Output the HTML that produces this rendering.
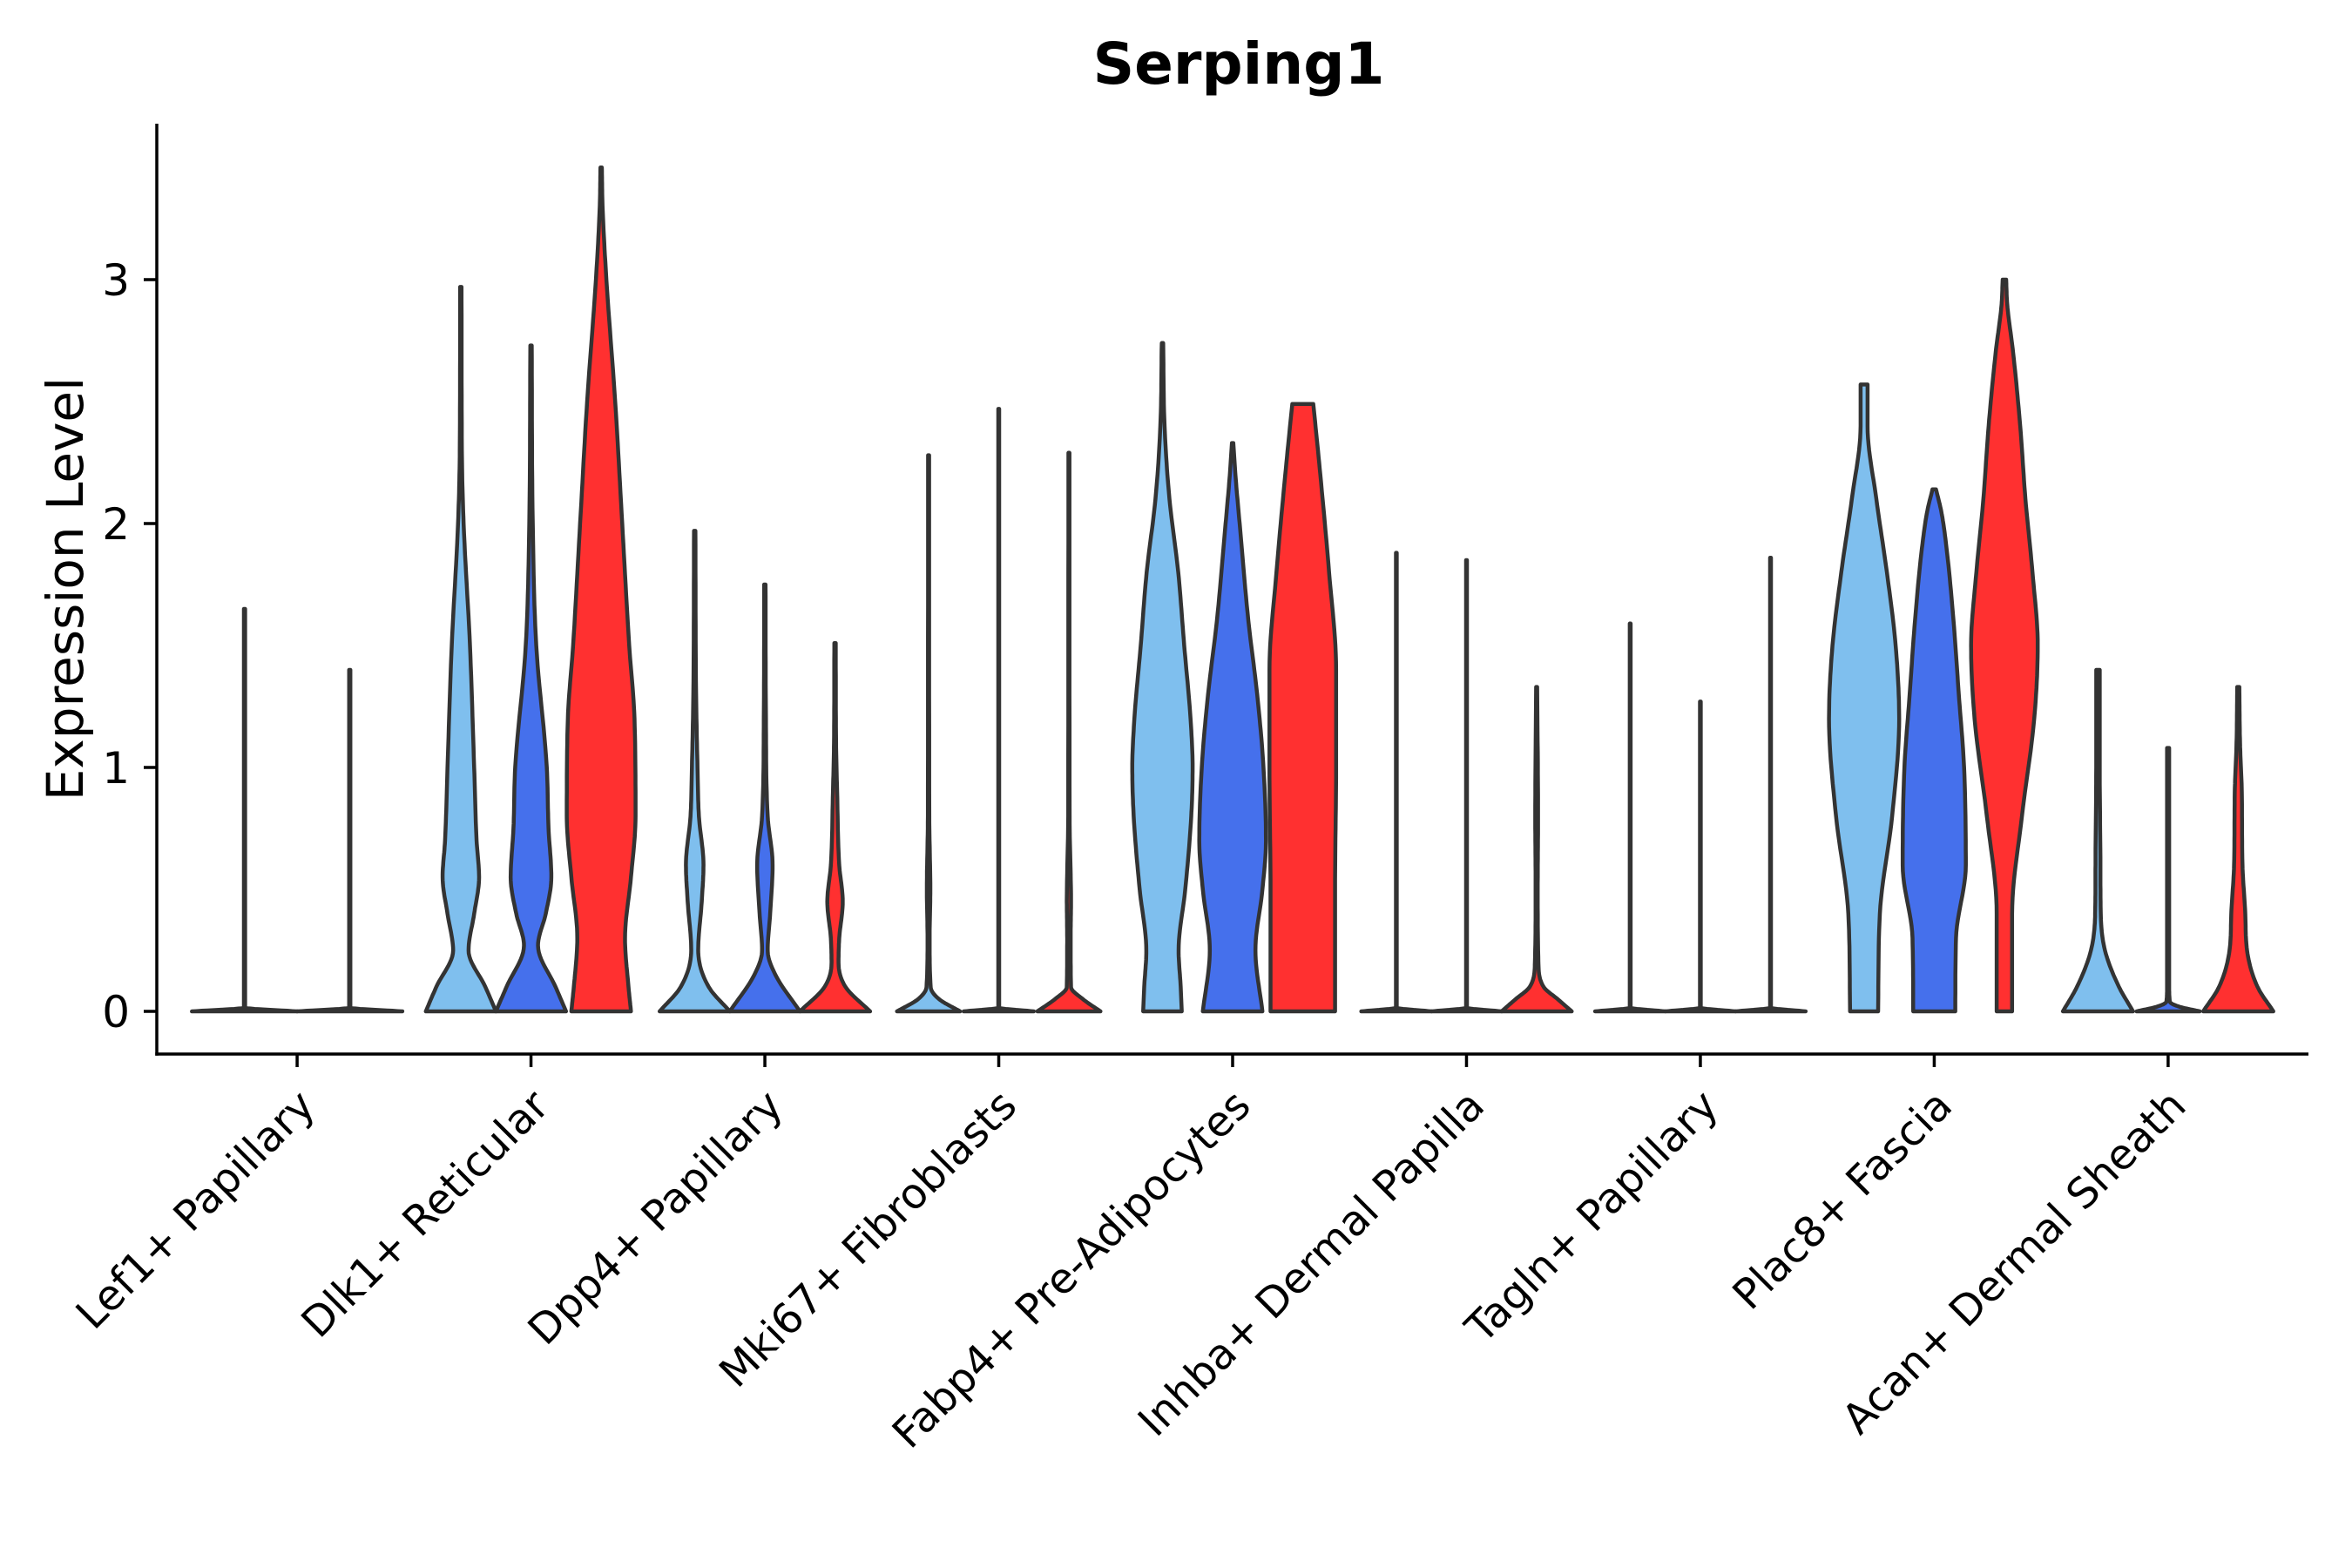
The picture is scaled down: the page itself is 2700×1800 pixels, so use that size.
<!DOCTYPE html>
<html><head><meta charset="utf-8"><style>
html,body{margin:0;padding:0;background:#fff}
svg{display:block}
text{font-family:"DejaVu Sans","Liberation Sans",sans-serif;fill:#000}
</style></head><body>
<svg id="chart" width="2700" height="1800" viewBox="0 0 2700 1800" xmlns="http://www.w3.org/2000/svg">
<text x="1422" y="96" font-size="66" font-weight="bold" text-anchor="middle">Serping1</text>
<text transform="translate(95,676) rotate(-90)" font-size="58" text-anchor="middle">Expression Level</text>
<g id="plot"></g>
</svg>
<script>
const categories = ["Lef1+ Papillary","Dlk1+ Reticular","Dpp4+ Papillary","Mki67+ Fibroblasts","Fabp4+ Pre-Adipocytes","Inhba+ Dermal Papilla","Tagln+ Papillary","Plac8+ Fascia","Acan+ Dermal Sheath"];
const yTicks = [0,1,2,3];
const seriesColors = ["#7fbfee","#4570ec","#ff3030"];
// each violin profile: [value, relative half-width]
const lef1 = [
  [[0,1],[0.015,0.012],[1.65,0.012]],
  [[0,1],[0.015,0.012],[1.40,0.012]]
];
const dlk1 = [
  [[0,1],[0.1,0.7],[0.25,0.22],[0.4,0.38],[0.55,0.52],[0.7,0.45],[1.0,0.38],[1.5,0.26],[2.0,0.08],[2.3,0.03],[2.97,0.02]],
  [[0,1],[0.1,0.7],[0.27,0.2],[0.4,0.42],[0.55,0.58],[0.75,0.5],[1.0,0.45],[1.5,0.15],[2.0,0.05],[2.73,0.02]],
  [[0,0.85],[0.1,0.78],[0.3,0.68],[0.55,0.85],[0.8,0.98],[1.2,0.95],[1.5,0.8],[2.0,0.6],[2.5,0.4],[3.0,0.15],[3.3,0.04],[3.46,0.02]]
];
const dpp4 = [
  [[0,1],[0.1,0.4],[0.25,0.1],[0.45,0.2],[0.6,0.25],[0.8,0.12],[1.0,0.08],[1.3,0.04],[1.97,0.02]],
  [[0,1],[0.15,0.3],[0.25,0.08],[0.4,0.15],[0.6,0.22],[0.8,0.08],[1.2,0.03],[1.75,0.02]],
  [[0,1],[0.1,0.3],[0.2,0.1],[0.3,0.12],[0.45,0.22],[0.6,0.12],[0.9,0.06],[1.1,0.03],[1.51,0.02]]
];
const mki67 = [
  [[0,0.9],[0.05,0.3],[0.1,0.06],[0.3,0.03],[0.5,0.05],[0.8,0.02],[2.28,0.015]],
  [[0,1],[0.015,0.012],[2.47,0.012]],
  [[0,0.9],[0.05,0.4],[0.1,0.06],[0.3,0.05],[0.45,0.06],[0.8,0.02],[2.29,0.015]]
];
const fabp4 = [
  [[0,0.55],[0.1,0.52],[0.25,0.46],[0.5,0.65],[0.8,0.82],[1.0,0.86],[1.2,0.8],[1.5,0.62],[1.8,0.45],[2.1,0.2],[2.4,0.06],[2.74,0.02]],
  [[0,0.85],[0.25,0.65],[0.5,0.85],[0.7,0.95],[1.0,0.88],[1.3,0.7],[1.6,0.45],[2.0,0.2],[2.2,0.08],[2.33,0.02]],
  [[0,0.92],[0.5,0.92],[1.0,0.95],[1.4,0.95],[1.8,0.75],[2.2,0.5],[2.49,0.3]]
];
const inhba = [
  [[0,1],[0.015,0.012],[1.88,0.012]],
  [[0,1],[0.015,0.012],[1.85,0.012]],
  [[0,1],[0.05,0.6],[0.1,0.2],[0.2,0.05],[0.5,0.03],[0.8,0.04],[1.33,0.015]]
];
const tagln = [
  [[0,1],[0.015,0.012],[1.59,0.012]],
  [[0,1],[0.015,0.012],[1.27,0.012]],
  [[0,1],[0.015,0.012],[1.86,0.012]]
];
const plac8 = [
  [[0,0.4],[0.4,0.45],[0.8,0.8],[1.2,1.0],[1.5,0.9],[1.8,0.65],[2.1,0.35],[2.4,0.1],[2.57,0.1]],
  [[0,0.6],[0.3,0.62],[0.6,0.9],[1.0,0.85],[1.3,0.7],[1.6,0.55],[1.9,0.35],[2.05,0.2],[2.14,0.05]],
  [[0,0.22],[0.4,0.22],[0.8,0.5],[1.2,0.85],[1.5,0.95],[1.8,0.8],[2.1,0.6],[2.4,0.45],[2.7,0.25],[2.9,0.08],[3.0,0.05]]
];
const acan = [
  [[0,1],[0.1,0.6],[0.25,0.2],[0.4,0.08],[0.6,0.07],[1.0,0.05],[1.4,0.05]],
  [[0,0.9],[0.02,0.3],[0.04,0.05],[0.1,0.03],[1.08,0.03]],
  [[0,1],[0.1,0.55],[0.25,0.25],[0.4,0.2],[0.6,0.12],[0.9,0.1],[1.1,0.05],[1.33,0.03]]
];
const groups = [lef1,dlk1,dpp4,mki67,fabp4,inhba,tagln,plac8,acan];

const NS = "http://www.w3.org/2000/svg";
const X0 = 180, X1 = 2650, YB = 1210, YTOP = 142;
const Y0PX = 1161, PXPERUNIT = 280;
const bandW = (X1 - X0) / (categories.length - 1 + 1.2);
function xCat(i){ return X0 + bandW * (i + 0.6); }
function yScale(v){ return Y0PX - v * PXPERUNIT; }
const plot = document.getElementById('plot');
function mk(tag, attrs){ const e = document.createElementNS(NS, tag); for (const k in attrs) e.setAttribute(k, attrs[k]); return e; }

// monotone cubic (Fritsch-Carlson) interpolation - no overshoot
function monotone(prof){
  const xs = prof.map(p => p[0]), ys = prof.map(p => p[1]);
  const n = xs.length;
  const d = [], m = [];
  for (let i = 0; i < n - 1; i++) d.push((ys[i+1] - ys[i]) / (xs[i+1] - xs[i]));
  m[0] = d[0]; m[n-1] = d[n-2];
  for (let i = 1; i < n - 1; i++) m[i] = (d[i-1] * d[i] <= 0) ? 0 : (d[i-1] + d[i]) / 2;
  for (let i = 0; i < n - 1; i++){
    if (d[i] === 0){ m[i] = 0; m[i+1] = 0; continue; }
    const a = m[i] / d[i], b = m[i+1] / d[i], s = a*a + b*b;
    if (s > 9){ const t = 3 / Math.sqrt(s); m[i] = t*a*d[i]; m[i+1] = t*b*d[i]; }
  }
  const out = [];
  for (let i = 0; i < n - 1; i++){
    const h = xs[i+1] - xs[i];
    const steps = 12;
    for (let k = 0; k < steps; k++){
      const t = k / steps, t2 = t*t, t3 = t2*t;
      const y = (2*t3 - 3*t2 + 1)*ys[i] + (t3 - 2*t2 + t)*h*m[i] + (-2*t3 + 3*t2)*ys[i+1] + (t3 - t2)*h*m[i+1];
      out.push([xs[i] + t*h, Math.max(0, y)]);
    }
  }
  out.push([xs[n-1], ys[n-1]]);
  return out;
}

groups.forEach((g, gi) => {
  const n = g.length;
  const dodge = bandW * 0.9;
  const slot = dodge / n;
  g.forEach((prof, vi) => {
    const cx = xCat(gi) + (vi - (n - 1) / 2) * slot;
    const hw = slot / 2;
    const pts = monotone(prof);
    const right = pts.map(p => (cx + p[1] * hw).toFixed(1) + "," + yScale(p[0]).toFixed(1));
    const left = pts.slice().reverse().map(p => (cx - p[1] * hw).toFixed(1) + "," + yScale(p[0]).toFixed(1));
    const d = "M" + right.join(" L") + " L" + left.join(" L") + " Z";
    const path = mk('path', {d: d, fill: seriesColors[vi], stroke: "#333", "stroke-width": 4.5, "stroke-linejoin": "round"});
    
    
    plot.appendChild(path);
  });
});

// axes
const yAxis = mk('line', {x1: X0, y1: YTOP, x2: X0, y2: YB + 1.75, stroke: "#000", "stroke-width": 3.5});


plot.appendChild(yAxis);
const xAxis = mk('line', {x1: X0 - 1.75, y1: YB, x2: X1, y2: YB, stroke: "#000", "stroke-width": 3.5});


plot.appendChild(xAxis);

yTicks.forEach(t => {
  const y = yScale(t);
  const tk = mk('line', {x1: X0 - 15, y1: y, x2: X0, y2: y, stroke: "#000", "stroke-width": 3.5});
  
  
  plot.appendChild(tk);
  const lb = mk('text', {x: X0 - 31, y: y + 18, "font-size": 50, "text-anchor": "end", fill: "#000"});
  lb.textContent = String(t);
  
  
  plot.appendChild(lb);
});

categories.forEach((c, i) => {
  const x = xCat(i);
  const tk = mk('line', {x1: x, y1: YB, x2: x, y2: YB + 15, stroke: "#000", "stroke-width": 3.5});
  
  
  plot.appendChild(tk);
  const lb = mk('text', {transform: "translate(" + (x + 23) + "," + (YB + 62) + ") rotate(-45)", "font-size": 48, "text-anchor": "end", fill: "#000"});
  lb.textContent = c;
  
  
  plot.appendChild(lb);
});
</script>
</body></html>
